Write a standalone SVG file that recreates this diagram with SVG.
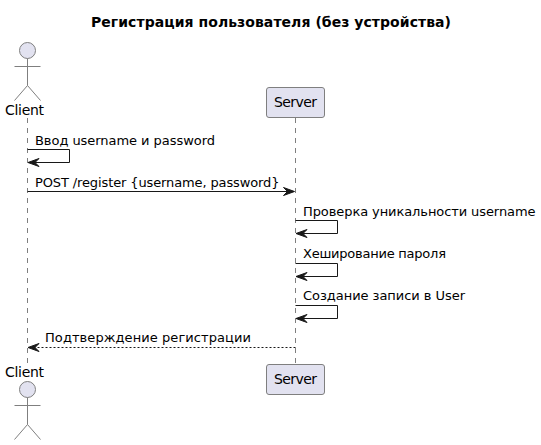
<svg xmlns="http://www.w3.org/2000/svg" width="541" height="445" viewBox="0 0 541 445">
<style>
text{font-family:"DejaVu Sans",sans-serif;fill:#000}
.t{font-size:14px;font-weight:bold}
.m{font-size:13px}
.n{font-size:14px}
.life{stroke:#7f7f7f;stroke-width:1;stroke-dasharray:5 5;fill:none}
.shape{fill:#E2E2F0;stroke:#7f7f7f;stroke-width:1}
.line{stroke:#7f7f7f;stroke-width:1;fill:none}
.msg{stroke:#181818;stroke-width:1;fill:none}
.dash{stroke-dasharray:2 2}
.head{fill:#181818;stroke:#181818;stroke-width:1}
</style>
<rect width="541" height="445" fill="#fff"/>
<text class="t" x="91" y="27" textLength="360">Регистрация пользователя (без устройства)</text>
<g id="lifelines"><path class="life" d="M27.5 118V363"/><path class="life" d="M295.5 118V363"/></g>
<g id="client-top"><circle class="shape" cx="27.5" cy="50.5" r="8"/><path class="line" d="M27.5 58.500V85.500M14.500 66.500H40.500M27.500 85.500L14.500 100.500M27.500 85.500L40.500 100.500"/><text class="n" x="5" y="115" textLength="39">Client</text></g>
<g id="server-top"><rect class="shape" x="266.500" y="87.500" width="58" height="30" rx="2.500"/><text class="n" x="274" y="107" textLength="43">Server</text></g>
<g id="client-bottom"><text class="n" x="5" y="377" textLength="39">Client</text><circle class="shape" cx="27.5" cy="389.500" r="8"/><path class="line" d="M27.5 397.500V424.500M14.500 405.500H40.500M27.500 424.500L14.500 439.500M27.500 424.500L40.500 439.500"/></g>
<g id="server-bottom"><rect class="shape" x="266.500" y="364.500" width="58" height="30" rx="2.500"/><text class="n" x="274" y="384" textLength="43">Server</text></g>
<g id="connectors">
<path class="msg" d="M27.500 149.500H69.500V162.500H28.500"/><path class="head" d="M28 162.500L39 158.500L35 162.500L39 166.500Z"/>
<path class="msg" d="M27.500 191.500H294"/><path class="head" d="M294.500 191.500L283.500 187.500L287.500 191.500L283.500 195.500Z"/>
<path class="msg" d="M295.500 220.500H337.500V233.500H296.500"/><path class="head" d="M296 233.500L307 229.500L303 233.500L307 237.500Z"/>
<path class="msg" d="M295.500 263.500H337.500V276.500H296.500"/><path class="head" d="M296 276.500L307 272.500L303 276.500L307 280.500Z"/>
<path class="msg" d="M295.500 305.500H337.500V318.500H296.500"/><path class="head" d="M296 318.500L307 314.500L303 318.500L307 322.500Z"/>
<path class="msg dash" d="M295.500 347.500H29"/><path class="head" d="M28 347.500L39 343.500L35 347.500L39 351.500Z"/>
</g>
<g id="labels">
<text class="m" x="35" y="145" textLength="180">Ввод username и password</text>
<text class="m" x="35" y="187" textLength="244.500">POST /register {username, password}</text>
<text class="m" x="303" y="216" textLength="232.500">Проверка уникальности username</text>
<text class="m" x="303" y="258" textLength="143">Хеширование пароля</text>
<text class="m" x="303" y="300" textLength="162">Создание записи в User</text>
<text class="m" x="45" y="342" textLength="206">Подтверждение регистрации</text>
</g>
</svg>
